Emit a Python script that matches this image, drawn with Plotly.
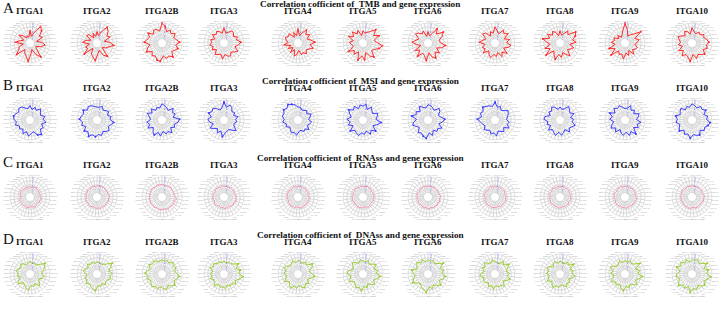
import plotly.graph_objects as go

W, H = 721, 309

cancers = ["ACC","BLCA","BRCA","CESC","CHOL","COAD","DLBC","ESCA","GBM","HNSC","KICH",
           "KIRC","KIRP","LAML","LGG","LIHC","LUAD","LUSC","MESO","OV","PAAD","PCPG",
           "PRAD","READ","SARC","SKCM","STAD","TGCT","THCA","THYM","UCEC","UCS","UVM"]
genes = ["ITGA1","ITGA2","ITGA2B","ITGA3","ITGA4","ITGA5","ITGA6","ITGA7","ITGA8","ITGA9","ITGA10"]
radial_ticks = [-0.4, -0.15, 0.1, 0.35, 0.6]

# ---- TMB correlations ----
tmb_ITGA1  = [0.15,-0.30,-0.20,-0.30,-0.05,0.20,-0.25,-0.05,0.30,-0.25,0.05,0.15,0.45,-0.15,0.05,0.20,0.50,0.00,-0.25,0.15,0.45,-0.15,-0.25,0.05,0.30,0.10,-0.25,0.20,0.05,0.40,0.58,0.05,-0.25]
tmb_ITGA2  = [0.05,-0.25,0.00,-0.30,0.05,0.15,-0.25,0.05,0.25,-0.20,0.10,0.00,0.40,-0.25,0.10,0.25,0.45,0.00,-0.20,0.20,0.40,-0.25,-0.05,0.10,0.40,0.15,-0.20,0.25,0.10,0.35,0.52,0.10,-0.20]
tmb_ITGA2B = [0.58,0.10,0.25,0.30,0.10,0.40,0.20,0.30,0.45,0.10,0.30,0.45,0.15,0.35,0.25,0.45,0.50,0.15,0.35,0.25,0.45,0.15,0.25,0.40,0.20,0.45,0.25,0.15,0.35,0.15,0.30,0.10,0.40]
tmb_ITGA3  = [0.30,-0.05,0.10,0.20,0.05,0.25,-0.05,0.20,0.10,0.25,0.05,0.20,-0.05,0.25,0.15,0.05,0.35,0.05,0.20,0.25,0.05,0.20,0.35,0.05,0.25,0.40,0.15,0.25,0.05,0.20,0.25,0.05,-0.05]
tmb_ITGA4  = [0.25,-0.20,0.05,-0.25,0.15,0.05,0.20,0.10,-0.05,0.25,-0.20,0.05,-0.25,0.10,-0.20,0.20,0.05,-0.20,0.10,0.00,0.20,0.00,0.10,0.35,0.10,0.40,0.15,-0.05,0.25,0.05,0.35,0.00,-0.20]
tmb_ITGA5  = [0.10,-0.20,0.20,0.00,0.30,0.05,0.35,-0.05,0.20,0.05,-0.05,0.40,0.05,0.25,-0.05,0.45,0.15,0.40,-0.05,0.25,0.45,0.05,0.15,0.40,0.58,0.20,0.05,0.45,0.15,0.50,0.20,0.05,-0.05]
tmb_ITGA6  = [0.05,-0.25,0.15,0.00,0.20,0.30,-0.05,0.10,0.35,0.05,-0.20,0.30,0.00,0.40,0.05,0.15,0.45,-0.05,0.25,0.40,0.05,0.30,-0.05,0.25,0.45,0.10,0.05,0.30,0.52,0.10,0.40,-0.05,-0.20]
tmb_ITGA7  = [0.35,-0.05,0.10,-0.15,0.20,0.30,-0.05,0.10,0.35,-0.05,0.20,0.05,0.30,-0.05,0.15,0.30,0.05,0.20,-0.05,0.30,0.05,0.35,-0.05,0.20,0.35,0.05,0.30,-0.05,0.35,0.15,0.30,-0.05,0.10]
tmb_ITGA8  = [0.10,-0.20,0.05,0.20,0.00,0.30,0.05,0.45,0.15,-0.05,0.35,0.05,0.50,-0.05,0.15,0.40,0.05,0.25,-0.05,0.15,0.35,-0.05,0.10,0.25,-0.05,0.35,0.15,0.40,0.56,0.05,0.25,-0.05,-0.15]
tmb_ITGA9  = [0.58,0.10,-0.15,-0.25,0.00,-0.20,0.10,0.00,0.20,-0.05,0.40,0.05,0.50,-0.05,0.15,0.05,0.35,-0.05,0.15,-0.15,0.25,-0.05,0.10,0.15,-0.05,0.10,0.25,0.00,0.58,0.10,-0.05,-0.20,0.15]
tmb_ITGA10 = [0.30,-0.10,0.10,0.20,-0.05,0.10,0.30,0.15,0.05,0.20,-0.05,0.30,0.05,0.35,0.15,0.25,0.50,0.05,0.35,0.15,0.25,0.40,0.15,0.35,0.25,0.40,0.30,0.15,0.25,0.05,0.15,-0.05,0.05]

# ---- MSI correlations ----
msi_ITGA1  = [0.25,0.05,0.15,0.30,0.35,0.20,0.30,0.40,0.35,0.20,0.30,0.10,0.20,0.05,0.30,0.10,0.35,0.20,0.10,0.40,0.50,0.20,0.30,0.10,0.35,0.15,0.30,0.05,0.15,0.30,0.05,0.20,0.00]
msi_ITGA2  = [0.15,0.20,0.30,0.35,0.20,0.40,0.25,0.35,0.45,0.25,0.35,0.15,0.40,0.25,0.50,0.30,0.40,0.25,0.35,0.15,0.25,0.35,0.15,0.25,0.40,0.15,0.25,0.05,0.25,0.15,0.05,0.25,0.15]
msi_ITGA2B = [0.35,0.10,0.20,0.05,0.30,0.10,0.35,0.15,0.05,0.30,0.15,0.35,0.05,0.25,0.40,0.15,0.35,0.05,0.25,0.15,0.35,0.05,0.25,0.15,0.35,0.45,0.05,0.25,0.15,0.35,0.05,0.15,0.25]
msi_ITGA3  = [0.45,0.10,0.00,0.20,0.35,0.25,0.40,0.15,0.35,0.25,0.05,0.35,0.15,0.00,0.25,0.05,0.40,0.15,0.05,0.00,0.15,0.35,0.05,0.00,0.15,0.05,0.25,0.00,0.15,0.05,0.25,0.35,0.15]
msi_ITGA4  = [0.15,0.30,0.40,0.50,0.35,0.45,0.30,0.35,0.20,0.30,0.10,0.20,0.00,0.10,0.25,0.15,0.30,0.05,0.00,0.15,0.05,0.25,0.00,0.10,0.20,0.00,0.10,0.25,0.00,0.15,0.05,0.00,0.15]
msi_ITGA5  = [0.20,0.30,0.10,0.35,0.20,0.45,0.25,0.10,0.35,0.15,0.30,0.05,0.40,0.15,0.25,0.35,0.15,0.25,0.05,0.35,0.15,0.40,0.05,0.25,0.50,0.15,0.25,0.35,0.05,0.15,0.30,0.05,0.35]
msi_ITGA6  = [0.30,0.10,0.20,0.35,0.05,0.25,0.15,0.40,0.05,0.25,0.35,0.15,0.05,0.35,0.25,0.40,0.50,0.15,0.35,0.05,0.25,0.15,0.35,0.05,0.25,0.40,0.15,0.05,0.25,0.35,0.05,0.15,0.25]
msi_ITGA7  = [0.45,0.20,0.30,0.35,0.45,0.25,0.35,0.20,0.45,0.25,0.15,0.05,0.25,0.15,0.05,0.25,0.15,0.35,0.05,0.15,0.25,0.05,0.35,0.15,0.25,0.05,0.15,0.25,0.35,0.15,0.05,0.25,0.15]
msi_ITGA8  = [0.15,0.00,0.20,0.30,0.10,0.20,0.00,0.30,0.35,0.10,0.20,0.00,0.30,0.10,0.20,0.35,0.10,0.30,0.15,0.00,0.30,0.10,0.20,0.35,0.10,0.20,0.00,0.30,0.10,0.20,0.35,0.10,0.00]
msi_ITGA9  = [0.05,0.15,0.30,0.20,0.35,0.10,0.40,0.15,0.30,0.05,0.20,0.35,0.10,0.30,0.00,0.20,0.30,0.10,0.35,0.15,0.45,0.05,0.30,0.15,0.35,0.05,0.20,0.30,0.00,0.20,0.05,0.30,0.10]
msi_ITGA10 = [0.35,0.15,0.25,0.10,0.35,0.25,0.15,0.40,0.25,0.35,0.15,0.25,0.40,0.15,0.35,0.25,0.50,0.25,0.35,0.40,0.15,0.35,0.25,0.40,0.50,0.25,0.35,0.15,0.40,0.25,0.35,0.15,0.25]

# ---- RNAss correlations ----
rna_ITGA1  = [-0.02,-0.05,0.00,-0.07,-0.02,0.03,-0.04,-0.01,-0.08,-0.03,0.01,-0.05,-0.02,0.00,-0.04,0.04,-0.02,-0.06,-0.01,0.03,-0.03,-0.07,0.00,-0.02,0.05,-0.04,-0.01,-0.06,0.02,-0.03,0.04,-0.02,-0.05]
rna_ITGA2  = [0.04,0.00,0.07,0.02,-0.02,0.05,0.01,0.06,-0.01,0.04,0.07,0.00,0.03,0.06,0.01,-0.02,0.05,0.02,0.07,0.00,0.04,0.06,0.01,0.12,0.05,0.15,0.03,0.06,0.00,0.04,0.07,0.02,0.04]
rna_ITGA2B = [0.14,0.10,0.16,0.08,0.12,0.18,0.11,0.14,0.09,0.16,0.11,0.17,0.10,0.14,0.08,0.12,0.16,0.10,0.14,0.18,0.11,0.16,0.21,0.13,0.26,0.17,0.11,0.14,0.10,0.16,0.12,0.09,0.11]
rna_ITGA3  = [0.00,0.04,-0.03,0.02,0.06,0.00,-0.04,0.04,0.01,0.05,-0.02,0.02,0.07,0.01,-0.03,0.04,0.00,0.06,0.02,-0.02,0.05,0.09,0.04,0.15,0.07,0.12,0.02,0.00,0.05,0.01,0.04,-0.02,0.02]
rna_ITGA4  = [0.01,-0.03,0.04,0.00,-0.05,0.03,-0.01,0.05,-0.03,0.01,-0.04,0.04,0.00,0.06,-0.02,0.03,-0.05,0.01,0.05,-0.02,0.03,-0.03,0.04,0.00,0.06,0.01,-0.04,0.03,-0.02,0.04,0.00,-0.03,0.02]
rna_ITGA5  = [-0.01,0.03,-0.04,0.01,0.05,-0.03,0.00,-0.05,0.03,-0.01,0.04,-0.04,0.01,-0.03,0.05,0.00,0.03,-0.04,-0.01,0.04,0.01,-0.05,0.00,0.03,-0.03,0.04,-0.01,0.01,-0.04,0.03,0.00,0.05,-0.03]
rna_ITGA6  = [0.02,-0.02,0.05,0.00,0.04,-0.03,0.01,0.06,0.00,0.02,-0.03,0.04,0.01,-0.02,0.05,0.00,0.03,0.08,0.01,0.10,0.04,0.12,0.05,0.14,0.06,0.16,0.04,0.00,0.05,0.01,0.04,-0.02,0.02]
rna_ITGA7  = [0.00,-0.04,0.03,-0.01,-0.06,0.01,-0.03,0.04,-0.01,-0.05,0.01,-0.03,0.03,0.00,-0.04,0.04,-0.01,0.01,-0.05,0.00,0.03,-0.03,0.01,0.05,-0.01,0.03,-0.04,0.00,0.04,-0.03,0.01,-0.05,0.00]
rna_ITGA8  = [-0.03,0.01,-0.05,0.00,0.04,-0.04,-0.01,0.03,-0.06,0.00,-0.03,0.03,-0.01,-0.05,0.01,-0.03,0.04,0.00,-0.04,0.01,-0.01,0.03,-0.05,0.00,0.04,-0.03,0.01,-0.04,0.00,0.03,-0.03,-0.01,0.01]
rna_ITGA9  = [0.01,-0.03,0.04,-0.01,0.03,-0.04,0.00,0.05,-0.01,0.01,-0.05,0.03,0.00,0.04,-0.03,0.01,-0.01,0.05,0.00,-0.04,0.03,-0.01,0.04,0.00,0.08,0.01,-0.03,0.03,-0.01,0.04,0.00,-0.04,0.01]
rna_ITGA10 = [0.04,0.00,0.06,0.01,-0.02,0.05,0.03,-0.01,0.06,0.01,0.04,-0.02,0.03,0.05,0.00,0.07,0.03,-0.01,0.04,0.06,0.01,0.05,0.00,0.10,0.04,0.13,0.03,-0.01,0.05,0.01,0.04,0.00,0.03]

# ---- DNAss correlations ----
dna_ITGA1  = [0.15,0.00,-0.05,0.10,0.20,0.00,0.10,0.25,0.05,0.15,-0.05,0.20,0.30,0.00,0.10,0.25,0.35,0.05,0.15,0.00,0.30,0.10,-0.05,0.15,0.25,0.05,0.20,0.35,0.50,0.15,0.00,0.10,0.00]
dna_ITGA2  = [0.10,0.00,0.15,0.05,0.20,0.00,0.10,0.25,0.05,-0.05,0.15,0.05,0.25,0.10,0.20,0.30,0.40,0.05,0.15,0.00,0.20,0.05,0.10,0.25,0.15,0.30,0.10,0.25,0.52,0.20,0.05,0.00,0.05]
dna_ITGA2B = [0.25,0.15,0.20,0.30,0.20,0.35,0.15,0.25,0.40,0.20,0.30,0.15,0.25,0.35,0.20,0.30,0.15,0.25,0.35,0.15,0.30,0.40,0.20,0.30,0.45,0.25,0.15,0.30,0.20,0.35,0.15,0.25,0.15]
dna_ITGA3  = [0.15,0.05,0.20,0.10,0.25,0.15,0.30,0.05,0.20,0.10,0.25,0.05,0.15,0.30,0.05,0.20,0.15,0.25,0.05,0.20,0.10,0.30,0.15,0.35,0.55,0.25,0.40,0.15,0.45,0.20,0.10,0.15,0.05]
dna_ITGA4  = [0.20,0.05,0.25,0.10,0.00,0.20,0.30,0.10,0.25,0.05,0.15,0.30,0.05,0.20,0.35,0.10,0.25,0.05,0.20,0.30,0.10,0.25,0.00,0.15,0.40,0.20,0.05,0.30,0.45,0.10,0.25,0.05,0.15]
dna_ITGA5  = [0.15,0.25,0.05,0.20,0.30,0.10,0.00,0.25,0.35,0.10,0.20,0.30,0.05,0.15,0.30,0.20,0.40,0.10,0.25,0.00,0.20,0.30,0.10,0.25,0.45,0.15,0.30,0.10,0.35,0.20,0.05,0.25,0.10]
dna_ITGA6  = [0.25,0.10,0.30,0.15,0.35,0.20,0.10,0.40,0.25,0.15,0.30,0.45,0.20,0.10,0.25,0.35,0.50,0.15,0.30,0.10,0.25,0.40,0.15,0.30,0.45,0.20,0.35,0.15,0.52,0.25,0.10,0.25,0.15]
dna_ITGA7  = [0.10,0.25,0.05,0.15,0.30,0.10,0.25,0.00,0.20,0.30,0.05,0.20,0.15,0.00,0.25,0.10,0.30,0.05,0.20,0.15,0.30,0.00,0.15,0.35,0.10,0.25,0.05,0.20,0.40,0.10,0.30,0.00,0.10]
dna_ITGA8  = [0.15,0.00,0.20,0.10,-0.05,0.15,0.25,0.05,0.20,0.00,0.10,0.25,0.00,0.15,0.30,0.10,0.20,0.00,0.10,0.25,0.05,0.15,-0.05,0.10,0.30,0.10,0.20,0.00,0.40,0.10,0.25,0.00,0.10]
dna_ITGA9  = [0.20,0.05,0.25,0.10,0.00,0.20,0.35,0.10,0.25,0.00,0.20,0.30,0.10,0.25,0.05,0.25,0.40,0.10,0.25,0.05,0.20,0.35,0.10,0.25,0.45,0.15,0.30,0.05,0.50,0.20,0.10,0.25,0.10]
dna_ITGA10 = [0.25,0.10,0.30,0.15,0.35,0.20,0.40,0.10,0.25,0.35,0.15,0.30,0.45,0.20,0.35,0.15,0.50,0.25,0.35,0.15,0.30,0.40,0.20,0.35,0.55,0.25,0.40,0.15,0.50,0.25,0.15,0.30,0.20]

rows = [
    ("A", "TMB",   [tmb_ITGA1,tmb_ITGA2,tmb_ITGA2B,tmb_ITGA3,tmb_ITGA4,tmb_ITGA5,tmb_ITGA6,tmb_ITGA7,tmb_ITGA8,tmb_ITGA9,tmb_ITGA10], "#ff2a2a", 1.0),
    ("B", "MSI",   [msi_ITGA1,msi_ITGA2,msi_ITGA2B,msi_ITGA3,msi_ITGA4,msi_ITGA5,msi_ITGA6,msi_ITGA7,msi_ITGA8,msi_ITGA9,msi_ITGA10], "#3c3cff", 1.0),
    ("C", "RNAss", [rna_ITGA1,rna_ITGA2,rna_ITGA2B,rna_ITGA3,rna_ITGA4,rna_ITGA5,rna_ITGA6,rna_ITGA7,rna_ITGA8,rna_ITGA9,rna_ITGA10], "#f77fb0", 0.8),
    ("D", "DNAss", [dna_ITGA1,dna_ITGA2,dna_ITGA2B,dna_ITGA3,dna_ITGA4,dna_ITGA5,dna_ITGA6,dna_ITGA7,dna_ITGA8,dna_ITGA9,dna_ITGA10], "#9acd32", 1.0),
]

col_cx = [30, 97, 162, 224, 298, 363, 428, 495, 560, 625, 692]
row_cy = [43, 120, 197, 274]
R = 20

fig = go.Figure()
layout_polars = {}
annotations = []
k = 0
for ri, (letter, metric, series, color, lw) in enumerate(rows):
    cy = row_cy[ri]
    annotations.append(dict(x=1/W, y=1-(cy-35)/H, xref="paper", yref="paper", text=letter,
                            showarrow=False, xanchor="left", yanchor="middle",
                            font=dict(family="Liberation Serif", size=15, color="#111")))
    annotations.append(dict(x=360/W, y=1-(cy-39)/H, xref="paper", yref="paper",
                            text="<b>Correlation cofficient of  %s and gene expression</b>" % metric,
                            showarrow=False, xanchor="center", yanchor="middle",
                            font=dict(family="Liberation Serif", size=9.2, color="#111")))
    for ci, vals in enumerate(series):
        k += 1
        name = "polar" if k == 1 else "polar%d" % k
        cx = col_cx[ci]
        fig.add_trace(go.Scatterpolar(
            r=vals + [vals[0]], theta=cancers + [cancers[0]], mode="lines+markers",
            line=dict(color=color, width=lw), marker=dict(size=2, color=color),
            subplot=name, showlegend=False))
        layout_polars[name] = dict(
            domain=dict(x=[(cx-R)/W, (cx+R)/W], y=[1-(cy+R)/H, 1-(cy-R)/H]),
            hole=0.22, bgcolor="white", gridshape="linear",
            radialaxis=dict(range=[-0.4, 0.6], tickvals=radial_ticks,
                            ticktext=[str(t) for t in radial_ticks],
                            tickfont=dict(size=2.5, color="#5555ff"), showline=False,
                            gridcolor="#d8d8d8", gridwidth=0.5, angle=90, tickangle=0, ticks=""),
            angularaxis=dict(tickfont=dict(size=2.5, color="#a0a0a0"), rotation=90,
                             direction="counterclockwise", gridcolor="#d8d8d8", gridwidth=0.5,
                             linecolor="#cccccc", linewidth=0.6, ticks=""))
        annotations.append(dict(x=cx/W, y=1-(cy-32)/H, xref="paper", yref="paper",
                                text="<b>%s</b>" % genes[ci], showarrow=False,
                                xanchor="center", yanchor="middle",
                                font=dict(family="Liberation Serif", size=9, color="#111")))

fig.update_layout(width=W, height=H, margin=dict(l=0, r=0, t=0, b=0),
                  paper_bgcolor="white", plot_bgcolor="white",
                  annotations=annotations, **layout_polars)
fig.write_html("out.html")
